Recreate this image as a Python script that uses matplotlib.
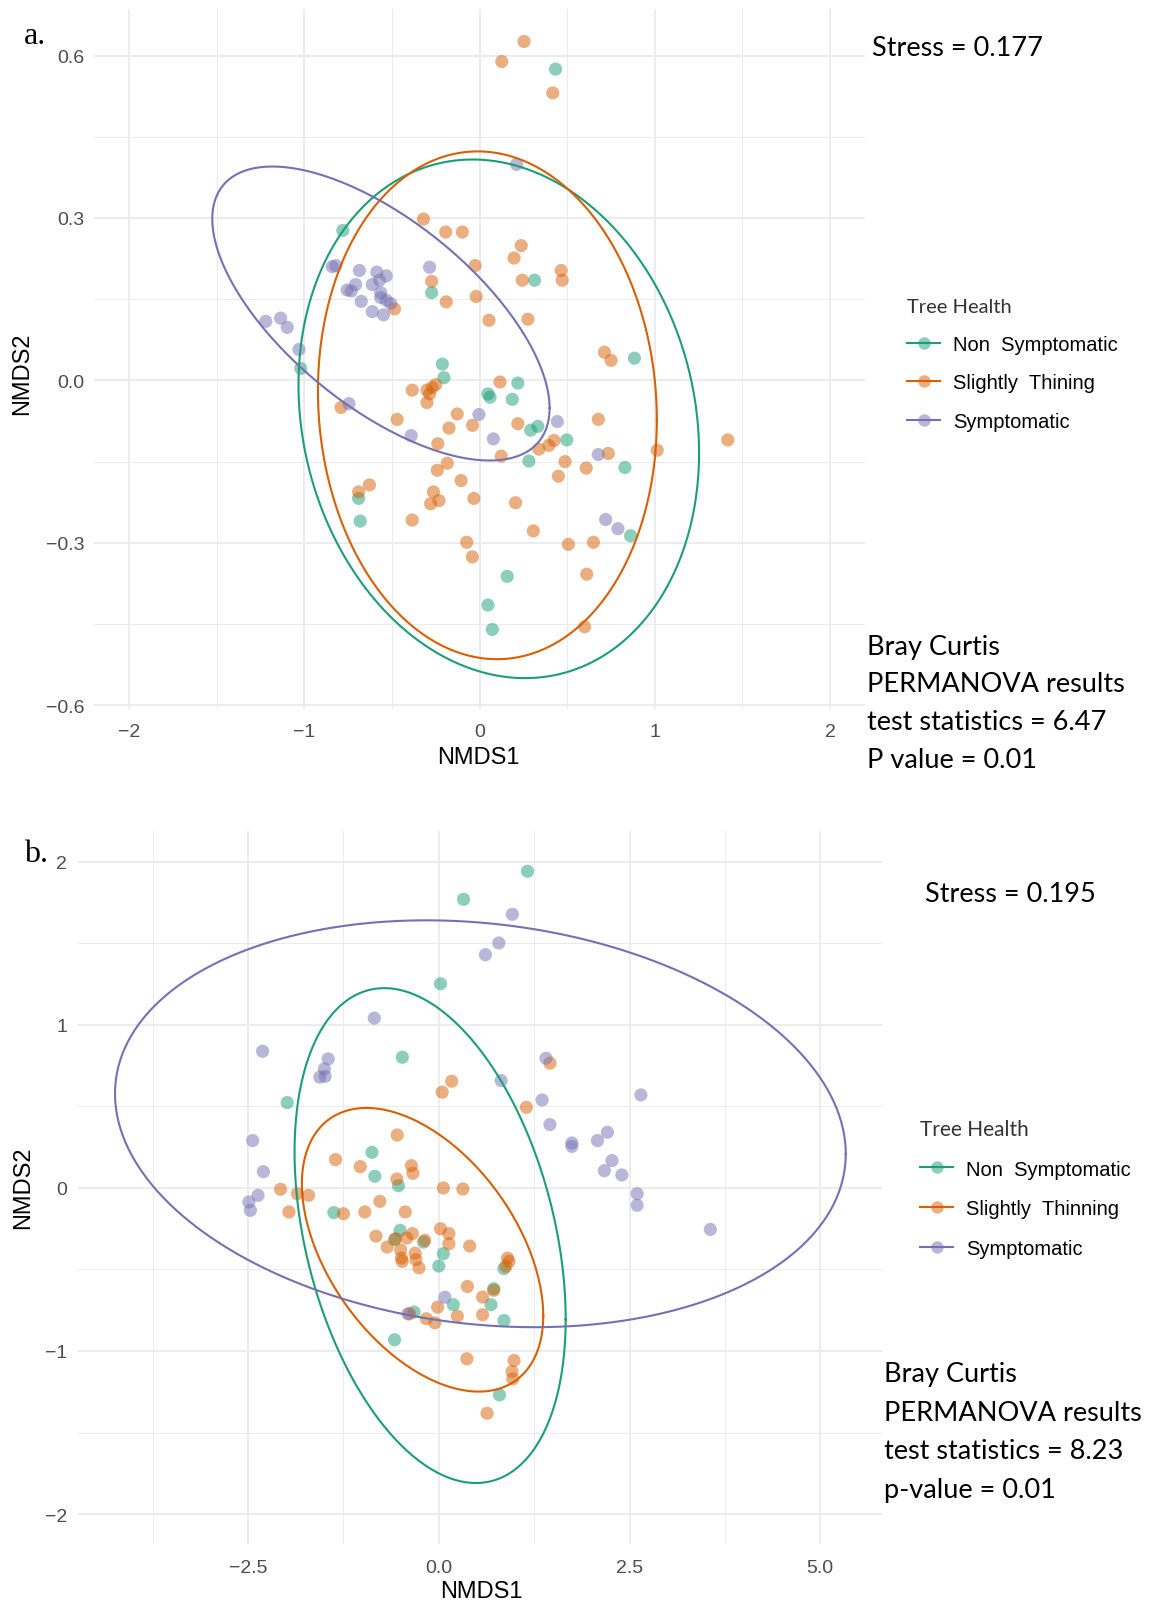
import numpy as np
import matplotlib
matplotlib.use("Agg")
import matplotlib.pyplot as plt
from matplotlib.lines import Line2D

W, H = 1152, 1606

groups = ["Non  Symptomatic", "Slightly  Thining", "Symptomatic"]
groups_b = ["Non  Symptomatic", "Slightly  Thinning", "Symptomatic"]
colors = ["#1B9E77", "#D95F02", "#7570B3"]

# ---- panel a points (NMDS1, NMDS2) ----
a_non_x = [0.434, -0.78, 0.314, -0.273, 0.884, -0.212, -0.203, 0.219, 0.048, 0.06, 0.187, 0.292,
           0.333, 0.498, 0.282, 0.83, -0.69, -0.681, 0.862, 0.158, 0.048, 0.073, -1.02]
a_non_y = [0.575, 0.277, 0.185, 0.162, 0.041, 0.030, 0.005, -0.005, -0.025, -0.031, -0.035, -0.092,
           -0.085, -0.11, -0.149, -0.161, -0.218, -0.26, -0.287, -0.362, -0.415, -0.46, 0.022]

a_thin_x = [0.254, 0.127, 0.418, -0.32, -0.193, -0.098, 0.238, 0.197, -0.025, 0.466, 0.472, 0.244,
            -0.273, -0.019, -0.19, -0.485, 0.054, 0.276, 0.713, 0.751, 0.117, -0.384, -0.30, -0.27,
            -0.25, -0.285, -0.79, -0.30, -0.47, -0.127, -0.04, -0.174, 0.219, 0.678, -0.238, 0.124,
            0.425, 0.396, 0.339, 0.735, 1.014, 1.417, -0.184, -0.241, 0.488, 0.609, 0.45, -0.105,
            -0.628, -0.69, -0.263, -0.032, -0.231, -0.279, 0.206, -0.384, 0.307, -0.073, 0.507,
            0.65, -0.041, 0.612, 0.60]
a_thin_y = [0.626, 0.589, 0.531, 0.298, 0.274, 0.274, 0.249, 0.226, 0.212, 0.203, 0.185, 0.185,
            0.183, 0.155, 0.145, 0.132, 0.111, 0.113, 0.052, 0.037, -0.003, -0.018, -0.018, -0.013,
            -0.008, -0.025, -0.05, -0.041, -0.072, -0.062, -0.083, -0.088, -0.080, -0.072, -0.117,
            -0.140, -0.111, -0.12, -0.127, -0.135, -0.129, -0.110, -0.153, -0.166, -0.15, -0.162,
            -0.177, -0.185, -0.193, -0.206, -0.206, -0.218, -0.222, -0.228, -0.226, -0.258, -0.278,
            -0.299, -0.303, -0.299, -0.326, -0.358, -0.455]

a_sym_x = [0.212, -0.84, -0.82, -0.685, -0.586, -0.532, -0.285, -0.707, -0.612, -0.57, -0.755,
           -0.732, -0.564, -0.564, -0.675, -0.532, -0.507, -0.612, -0.548, -1.22, -1.135, -1.097,
           -1.03, -0.745, -0.003, 0.444, -0.39, 0.079, 0.678, 0.72, 0.79]
a_sym_y = [0.399, 0.21, 0.212, 0.203, 0.2, 0.193, 0.209, 0.177, 0.177, 0.185, 0.167, 0.165, 0.162,
           0.153, 0.146, 0.148, 0.142, 0.127, 0.121, 0.109, 0.115, 0.098, 0.057, -0.043, -0.063,
           -0.076, -0.102, -0.108, -0.137, -0.257, -0.274]

# ---- panel b points ----
b_non_x = [1.163, 0.324, 0.022, -0.478, -1.987, -0.876, -0.839, -0.53, -1.376, -0.508, -0.58, -0.2,
           0.059, 0.0, 0.854, 0.72, 0.684, 0.19, 0.854, -0.324, -0.58, 0.795]
b_non_y = [1.943, 1.771, 1.253, 0.802, 0.524, 0.219, 0.072, 0.014, -0.151, -0.26, -0.317, -0.332,
           -0.403, -0.479, -0.495, -0.618, -0.716, -0.716, -0.813, -0.761, -0.931, -1.269]

b_thin_x = [1.457, 0.169, 0.044, 1.148, -0.545, -1.354, -1.03, -0.36, -0.34, -0.55, 0.059, 0.316,
            -2.075, -1.854, -1.707, -1.965, -1.25, -0.97, -0.773, -0.44, -0.824, -0.567, -0.42,
            -0.346, -0.184, 0.022, 0.132, 0.132, 0.405, -0.677, -0.5, -0.49, -0.48, -0.31, -0.30,
            -0.26, 0.9, 0.92, 0.88, 0.375, 0.574, 0.72, 0.574, 0.243, -0.015, -0.162, -0.052,
            -0.383, 0.368, 0.986, 0.96, 0.97, 0.633]
b_thin_y = [0.766, 0.655, 0.588, 0.495, 0.325, 0.174, 0.131, 0.137, 0.09, 0.055, 0.0, -0.006,
            -0.008, -0.035, -0.045, -0.147, -0.158, -0.147, -0.082, -0.147, -0.295, -0.311, -0.307,
            -0.28, -0.321, -0.25, -0.28, -0.342, -0.356, -0.362, -0.38, -0.43, -0.45, -0.40, -0.44,
            -0.49, -0.43, -0.45, -0.48, -0.604, -0.669, -0.628, -0.778, -0.786, -0.731, -0.802,
            -0.827, -0.772, -1.048, -1.058, -1.126, -1.171, -1.382]

b_sym_x = [0.964, 0.787, 0.611, -0.846, -2.31, -1.45, -1.50, -1.56, -1.49, 1.405, 0.817, 2.649,
           1.354, 1.457, -2.44, 1.744, 1.744, 2.08, 2.21, 2.27, 2.17, 2.40, -2.30, 2.6, 2.6, -2.37,
           -2.49, -2.47, 3.56, 0.08, -0.405]
b_sym_y = [1.679, 1.503, 1.431, 1.042, 0.839, 0.792, 0.731, 0.68, 0.685, 0.796, 0.659, 0.571,
           0.54, 0.389, 0.291, 0.276, 0.255, 0.291, 0.342, 0.168, 0.106, 0.08, 0.10, -0.035,
           -0.106, -0.045, -0.086, -0.137, -0.254, -0.67, -0.772]

# ellipses: centre x, centre y, x half-extent, y half-extent, skew
ell_a = [(0.11, -0.071, 1.143, 0.479, -0.131),
         (0.045, -0.046, 0.967, 0.469, -0.057),
         (-0.5625, 0.1235, 0.9625, 0.2715, -0.644)]
ell_b = [(-0.114, -0.292, 1.777, 1.518, -0.338),
         (-0.213, -0.379, 1.582, 0.87, -0.465),
         (0.545, 0.394, 4.79, 1.248, -0.148)]

fig = plt.figure(figsize=(W / 100, H / 100), dpi=100)
fig.patch.set_facecolor("white")


def px_axes(l, r, t, b):
    return fig.add_axes([l / W, 1 - b / H, (r - l) / W, (b - t) / H])


def ellipse(cx, cy, rx, ry, s):
    t = np.linspace(0, 2 * np.pi, 200)
    phi = np.arcsin(s)
    return cx + rx * np.cos(t), cy + ry * np.sin(t + phi)


def panel(ax, pts, ells, xlim, ylim, xmaj, xmin, ymaj, ymin, xlabels, ylabels, pady, padx):
    ax.set_xlim(xlim)
    ax.set_ylim(ylim)
    for v in xmin:
        ax.axvline(v, color="#EBEBEB", lw=0.7, zorder=0)
    for v in ymin:
        ax.axhline(v, color="#EBEBEB", lw=0.7, zorder=0)
    for v in xmaj:
        ax.axvline(v, color="#EBEBEB", lw=1.3, zorder=0)
    for v in ymaj:
        ax.axhline(v, color="#EBEBEB", lw=1.3, zorder=0)
    for (x, y), c in zip(pts, colors):
        ax.scatter(x, y, s=90, color=c, alpha=0.5, edgecolors="none", zorder=2)
    for e, c in zip(ells, colors):
        ex, ey = ellipse(*e)
        ax.plot(ex, ey, color=c, lw=1.5, zorder=3)
    ax.set_xticks(xmaj)
    ax.set_xticklabels(xlabels)
    ax.set_yticks(ymaj)
    ax.set_yticklabels(ylabels)
    ax.tick_params(length=0, labelsize=14, colors="#4D4D4D")
    ax.tick_params(axis="y", pad=pady)
    ax.tick_params(axis="x", pad=padx)
    for lab in ax.get_xticklabels() + ax.get_yticklabels():
        lab.set_family("Liberation Sans")
    for sp in ax.spines.values():
        sp.set_visible(False)


def add_legend(ax, labels, x, y, spacing, title_size):
    handles = [Line2D([0], [0], color=c, lw=1.5, marker="o", markersize=9,
                      markerfacecolor=matplotlib.colors.to_rgba(c, 0.5),
                      markeredgecolor="none") for c in colors]
    leg = ax.legend(handles, labels, title="Tree Health", loc="upper left",
                    bbox_to_anchor=(x / W, 1 - y / H), bbox_transform=fig.transFigure,
                    frameon=False, borderpad=0, borderaxespad=0, handlelength=1.65,
                    handletextpad=0.65, labelspacing=spacing,
                    prop={"family": "Liberation Sans", "size": 14.5},
                    title_fontproperties={"family": "Lato", "size": title_size})
    leg._legend_box.align = "left"
    leg.get_title().set_color("#333333")


# ---- panel a ----
ax1 = px_axes(94, 865, 10, 710)
panel(ax1, [(a_non_x, a_non_y), (a_thin_x, a_thin_y), (a_sym_x, a_sym_y)], ell_a,
      (-2.2, 2.2), (-0.607, 0.686),
      [-2, -1, 0, 1, 2], [-1.5, -0.5, 0.5, 1.5],
      [-0.6, -0.3, 0.0, 0.3, 0.6], [-0.45, -0.15, 0.15, 0.45],
      ["\u22122", "\u22121", "0", "1", "2"], ["\u22120.6", "\u22120.3", "0.0", "0.3", "0.6"],
      7, 10)
add_legend(ax1, groups, 907, 299, 0.98, 14.5)

# ---- panel b ----
ax2 = px_axes(78, 882, 832, 1545)
panel(ax2, [(b_non_x, b_non_y), (b_thin_x, b_thin_y), (b_sym_x, b_sym_y)], ell_b,
      (-4.73, 5.81), (-2.184, 2.19),
      [-2.5, 0.0, 2.5, 5.0], [-3.75, -1.25, 1.25, 3.75],
      [-2, -1, 0, 1, 2], [-1.5, -0.5, 0.5, 1.5],
      ["\u22122.5", "0.0", "2.5", "5.0"], ["\u22122", "\u22121", "0", "1", "2"],
      8, 11)
add_legend(ax2, groups_b, 920, 1120, 1.02, 15)

# axis titles
lab = dict(family="Liberation Sans", size=17, color="black", ha="center", va="center")
fig.text(478 / W, 1 - 758 / H, "NMDS1", **lab)
fig.text(22 / W, 1 - 374 / H, "NMDS2", rotation=90, **lab)
fig.text(481 / W, 1 - 1592 / H, "NMDS1", **lab)
fig.text(23 / W, 1 - 1188 / H, "NMDS2", rotation=90, **lab)

# panel tags
fig.text(24 / W, 1 - 37 / H, "a.", family="Liberation Serif", size=23, va="center")
fig.text(24 / W, 1 - 855 / H, "b.", family="Liberation Serif", size=23, va="center")

# annotations
note = dict(family="Lato", size=19.5, color="black", va="center", ha="left")
fig.text(872 / W, 1 - 49 / H, "Stress = 0.177", **note)
fig.text(925 / W, 1 - 895 / H, "Stress = 0.195", **note)

lines_a = ["Bray Curtis", "PERMANOVA results", "test statistics = 6.47", "P value = 0.01"]
lines_b = ["Bray Curtis", "PERMANOVA results", "test statistics = 8.23", "p-value = 0.01"]
for i, s in enumerate(lines_a):
    fig.text(867 / W, 1 - (647 + 37.7 * i) / H, s, **note)
for i, s in enumerate(lines_b):
    fig.text(884 / W, 1 - (1375 + 38.5 * i) / H, s, **note)

fig.savefig("out.png", dpi=100)
